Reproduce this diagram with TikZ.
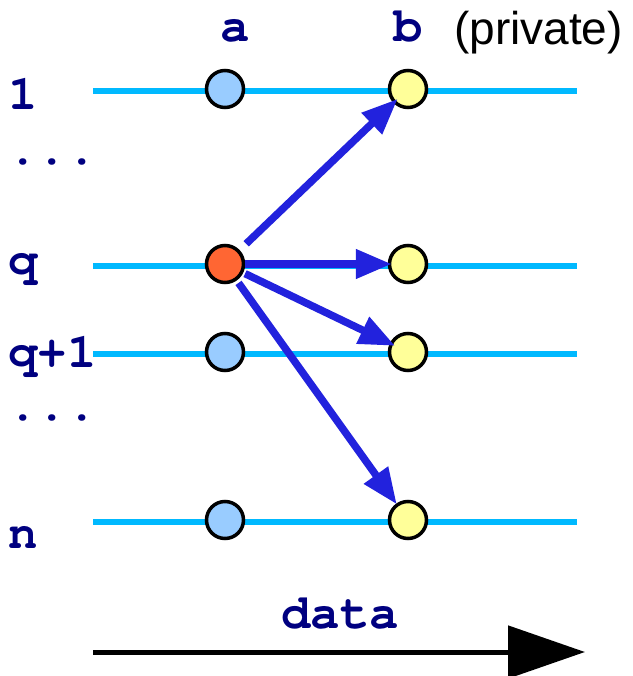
\documentclass[tikz,border=0pt]{standalone}
\usepackage[T1,TU]{fontenc}
\usepackage{fontspec}
\setmainfont{Liberation Sans}
\newcommand\cmono{\fontencoding{T1}\fontfamily{pcr}\fontseries{b}\selectfont}
\usetikzlibrary{arrows.meta}
\definecolor{wire}{RGB}{0,185,255}
\definecolor{ablue}{RGB}{153,204,255}
\definecolor{byellow}{RGB}{255,255,153}
\definecolor{qorange}{RGB}{255,102,51}
\definecolor{arr}{RGB}{34,34,221}
\definecolor{navy}{RGB}{0,0,128}
\tikzset{
  wireline/.style={wire,line width=6pt},
  dot/.style={circle,draw=black,line width=3.5pt,minimum size=37pt,inner sep=0pt},
  adot/.style={dot,fill=ablue},
  bdot/.style={dot,fill=byellow},
  qdot/.style={dot,fill=qorange},
  lbl/.style={text=navy,font=\cmono\fontsize{49}{49}\selectfont,inner sep=0pt,anchor=base west},
  toplbl/.style={text=navy,font=\cmono\fontsize{49}{49}\selectfont,inner sep=0pt,anchor=base},
  sendarrow/.style={arr,line width=7.5pt,-{Triangle[length=36pt,width=28pt]}},
  dataarrow/.style={black,line width=5pt,-{Triangle[length=77pt,width=52pt]}}
}
\begin{document}
\begin{tikzpicture}[x=1pt,y=-1pt]
\useasboundingbox (0,0) rectangle (632,676);
% wires
\foreach \n/\y in {w1/91,wq/266,wqq/354,wn/522}{
  \coordinate (\n s) at (93,\y);
  \coordinate (\n e) at (577,\y);
  \draw[wireline] (\n s) -- (\n e);
}
% circles
\node[adot] (a1) at (225,89) {};
\node[bdot] (b1) at (408,89) {};
\node[qdot] (aq) at (225,264) {};
\node[bdot] (bq) at (408,264) {};
\node[adot] (aqq) at (225,352) {};
\node[bdot] (bqq) at (408,352) {};
\node[adot] (an) at (225,520) {};
\node[bdot] (bn) at (408,520) {};
% top labels
\node[toplbl] (la) at (235,42) {a};
\node[toplbl] (lb) at (408,42) {b};
\node[anchor=base west,inner sep=0pt,font=\fontsize{46}{46}\selectfont] (lp) at (454,45) {(private)};
% row labels
\node[lbl] (r1) at (8,110) {1};
\node[lbl] (rd1) at (8,165) {...};
\node[lbl] (rq) at (8,275) {q};
\node[lbl] (rqq) at (8,367) {q+1};
\node[lbl] (rd2) at (8,420) {...};
\node[lbl] (rn) at (8,548) {n};
% send arrows
\draw[sendarrow,shorten <=9pt,shorten >=-6pt] (aq) -- (b1);
\draw[sendarrow,shorten >=-4pt] (aq) -- (bq);
\draw[sendarrow,shorten <=2pt,shorten >=-6pt] (aq) -- (bqq);
\draw[sendarrow,shorten <=3pt,shorten >=-1pt] (aq) -- (bn);
% data arrow
\coordinate (ds) at (93,652);
\coordinate (de) at (585,652);
\draw[dataarrow] (ds) -- (de);
\node[toplbl] (ldata) at (340,628) {data};
\end{tikzpicture}
\end{document}
